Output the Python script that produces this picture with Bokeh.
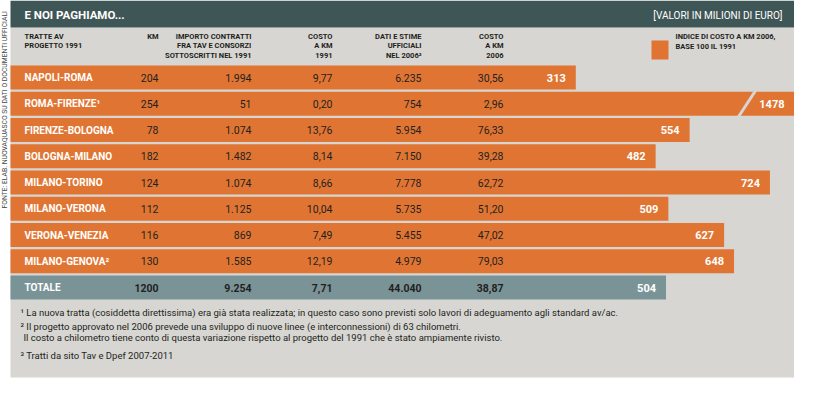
import math
from bokeh.plotting import figure
from bokeh.models import Range1d
from bokeh.core.properties import value
from bokeh.embed import file_html
from bokeh.resources import INLINE

# ---------------- data ----------------
routes = ["NAPOLI-ROMA", "ROMA-FIRENZE¹", "FIRENZE-BOLOGNA", "BOLOGNA-MILANO",
          "MILANO-TORINO", "MILANO-VERONA", "VERONA-VENEZIA", "MILANO-GENOVA²"]
km = [204, 254, 78, 182, 124, 112, 116, 130]
importo_1991 = [1994, 51, 1074, 1482, 1074, 1125, 869, 1585]
costo_km_1991 = [9.77, 0.20, 13.76, 8.14, 8.66, 10.04, 7.49, 12.19]
stime_2006 = [6235, 754, 5954, 7150, 7778, 5735, 5455, 4979]
costo_km_2006 = [30.56, 2.96, 76.33, 39.28, 62.72, 51.20, 47.02, 79.03]
indice_2006 = [313, 1478, 554, 482, 724, 509, 627, 648]

tot_label = "TOTALE"
tot_km = 1200
tot_importo = 9254
tot_costo_1991 = 7.71
tot_stime = 44040
tot_costo_2006 = 38.87
tot_indice = 504

header_cols = [
    ["TRATTE AV", "PROGETTO 1991"],
    ["KM"],
    ["IMPORTO CONTRATTI", "FRA TAV E CONSORZI", "SOTTOSCRITTI NEL 1991"],
    ["COSTO", "A KM", "1991"],
    ["DATI E STIME", "UFFICIALI", "NEL 2006³"],
    ["COSTO", "A KM", "2006"],
]
legend_lines = ["INDICE DI COSTO A KM 2006,", "BASE 100 IL 1991"]
title = "E NOI PAGHIAMO..."
unit_note = "[VALORI IN MILIONI DI EURO]"
footnotes = [
    "¹ La nuova tratta (cosiddetta direttissima) era già stata realizzata; in questo caso sono previsti solo lavori di adeguamento agli standard av/ac.",
    "² Il progetto approvato nel 2006 prevede una sviluppo di nuove linee (e interconnessioni) di 63 chilometri.",
    "Il costo a chilometro tiene conto di questa variazione rispetto al progetto del 1991 che è stato ampiamente rivisto.",
    "³ Tratti da sito Tav e Dpef 2007-2011",
]
source = "FONTE: ELAB. NUOVAQUASCO SU DATI O DOCUMENTI UFFICIALI"

# ---------------- style ----------------
ORANGE = "#e07533"
HEADER = "#3f5656"
PANEL = "#d7d6d2"
TOTAL = "#7a9397"
DARK = "#231f20"
FONT = value("Roboto")

W, H = 794, 381
V0, V1 = -905, 776          # index scale of the bars


def X(px):
    return V0 + px * (V1 - V0) / W


def fint(v):
    return f"{v:,}".replace(",", ".")


def fdec(v):
    return f"{v:.2f}".replace(".", ",")


p = figure(width=W, height=H, x_range=Range1d(V0, V1), y_range=Range1d(H, 0),
           output_backend="svg", toolbar_location=None,
           x_axis_type=None, y_axis_type=None,
           min_border=0, min_border_left=0, min_border_right=0,
           min_border_top=0, min_border_bottom=0)
p.grid.visible = False
p.outline_line_color = None
p.background_fill_color = "white"
p.border_fill_color = "white"

# panels
p.quad(left=[X(10)], right=[X(W)], top=[27], bottom=[377], color=PANEL, line_color=None)
p.quad(left=[X(10)], right=[X(W)], top=[0], bottom=[27], color=HEADER, line_color=None)

# rows
n = len(routes)
centers = [77 + i * 26.25 for i in range(n + 1)]
rc = centers[:n]
tc = centers[n]

p.hbar(y=rc, left=X(10), right=indice_2006, height=24, color=ORANGE, line_color=None)
p.hbar(y=[tc], left=X(10), right=[tot_indice], height=24, color=TOTAL, line_color=None)

# break mark on the clipped bar
for i, v in enumerate(indice_2006):
    if v > V1:
        p.segment(x0=[X(755)], y0=[rc[i] - 13], x1=[X(738)], y1=[rc[i] + 13],
                  line_color=PANEL, line_width=3)

# value labels
lab_x = [min(v, V1) for v in indice_2006]
p.text(x=lab_x, y=rc, text=[str(v) for v in indice_2006], x_offset=-10,
       text_align="right", text_baseline="middle", text_color="white",
       text_font=FONT, text_font_style="bold", text_font_size="11px")
p.text(x=[tot_indice], y=[tc], text=[str(tot_indice)], x_offset=-10,
       text_align="right", text_baseline="middle", text_color="white",
       text_font=FONT, text_font_style="bold", text_font_size="11px")

# table columns
p.text(x=[X(24)] * n, y=rc, text=routes, text_align="left", text_baseline="middle",
       text_color="white", text_font=FONT, text_font_style="bold", text_font_size="10px")
p.text(x=[X(24)], y=[tc], text=[tot_label], text_align="left", text_baseline="middle",
       text_color="white", text_font=FONT, text_font_style="bold", text_font_size="10px")

col_right = [158, 251, 332, 421, 503]
cols = [
    [str(v) for v in km],
    [fint(v) for v in importo_1991],
    [fdec(v) for v in costo_km_1991],
    [fint(v) for v in stime_2006],
    [fdec(v) for v in costo_km_2006],
]
tots = [str(tot_km), fint(tot_importo), fdec(tot_costo_1991), fint(tot_stime), fdec(tot_costo_2006)]
for r, vals, t in zip(col_right, cols, tots):
    p.text(x=[X(r)] * n, y=rc, text=vals, text_align="right", text_baseline="middle",
           text_color=DARK, text_font=FONT, text_font_size="10.5px")
    p.text(x=[X(r)], y=[tc], text=[t], text_align="right", text_baseline="middle",
           text_color=DARK, text_font=FONT, text_font_style="bold", text_font_size="10.5px")

# column headers
head_x = [24] + col_right
for k, (hx, lines) in enumerate(zip(head_x, header_cols)):
    ys = [35.5 + j * 9.6 for j in range(len(lines))]
    p.text(x=[X(hx)] * len(lines), y=ys, text=lines,
           text_align="left" if k == 0 else "right", text_baseline="middle",
           text_color=DARK, text_font=FONT, text_font_style="bold", text_font_size="7.5px")

# legend
p.quad(left=[X(651)], right=[X(668)], top=[40], bottom=[59], color=ORANGE, line_color=None)
p.text(x=[X(675)] * 2, y=[36, 45.5], text=legend_lines, text_align="left", text_baseline="middle",
       text_color=DARK, text_font=FONT, text_font_style="bold", text_font_size="7.5px")

# title bar
p.text(x=[X(24)], y=[14], text=[title], text_align="left", text_baseline="middle",
       text_color="white", text_font=FONT, text_font_style="bold", text_font_size="11.5px")
p.text(x=[X(782)], y=[14.5], text=[unit_note], text_align="right", text_baseline="middle",
       text_color="white", text_font=FONT, text_font_size="10px")

# footnotes
fx = [20, 20, 23, 20]
fy = [312, 326, 337, 355]
p.text(x=[X(v) for v in fx], y=fy, text=footnotes, text_align="left", text_baseline="middle",
       text_color=DARK, text_font=FONT, text_font_size="9.5px")

# vertical source note
p.text(x=[X(4.5)], y=[208], text=[source], angle=math.pi / 2, text_align="left",
       text_baseline="middle", text_color="#444444", text_font=FONT, text_font_size="6.8px")

open("out.html", "w").write(file_html(p, INLINE))
